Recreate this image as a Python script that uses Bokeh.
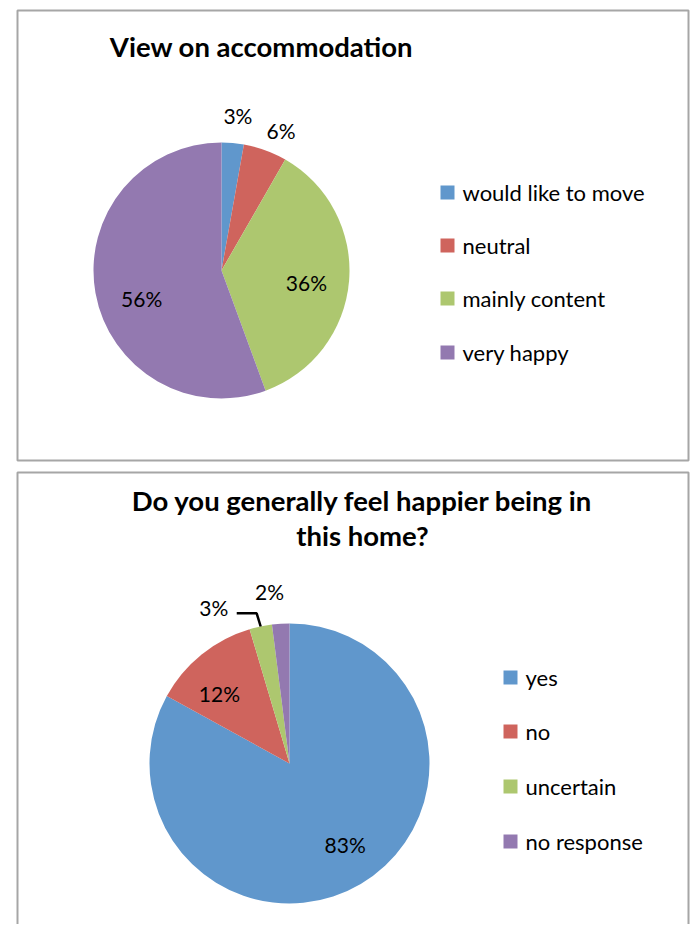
import math
from bokeh.plotting import figure
from bokeh.models import Range1d
from bokeh.core.properties import value
from bokeh.embed import file_html
from bokeh.resources import INLINE

# ---- data ----
title1 = ["View on accommodation"]
cats1 = ["would like to move", "neutral", "mainly content", "very happy"]
vals1 = [2.8, 5.5, 36.1, 55.6]
pct1 = ["3%", "6%", "36%", "56%"]

title2 = ["Do you generally feel happier being in", "this home?"]
cats2 = ["yes", "no", "uncertain", "no response"]
vals2 = [83.0, 12.4, 2.6, 2.0]
pct2 = ["83%", "12%", "3%", "2%"]

colors = ["#6097CC", "#CF645D", "#ADC76F", "#9379B0"]

# ---- layout (page pixel coordinates) ----
W, H = 690, 924
OFF = 0
PAGE_H = 926
FONT = "Lato"


def Y(py):
    return PAGE_H - py


p = figure(width=W, height=H, x_range=Range1d(OFF, OFF + W), y_range=Range1d(Y(OFF + H), Y(OFF)),
           output_backend="svg", toolbar_location=None, min_border=0)
p.axis.visible = False
p.grid.visible = False
p.outline_line_color = None
p.background_fill_color = "white"
p.border_fill_color = "white"

BORDER = "#A6A6A6"
# chart borders
p.rect(x=[352.5], y=[Y(235)], width=671, height=450, fill_color=None,
       line_color=BORDER, line_width=2)
p.rect(x=[352.5], y=[Y(472 + 250)], width=671, height=500, fill_color=None,
       line_color=BORDER, line_width=2)


def pie(vals, cx, cy, r, label_rf, label_adj, pct, fsize):
    tot = sum(vals)
    c = 0.0
    starts, ends, lx, ly = [], [], [], []
    mids = []
    for i, v in enumerate(vals):
        c0 = c / tot
        c1 = (c + v) / tot
        c += v
        starts.append(math.pi / 2 - 2 * math.pi * c1)
        ends.append(math.pi / 2 - 2 * math.pi * c0)
        th = 2 * math.pi * (c0 + c1) / 2 + math.radians(label_adj[i])
        mids.append(2 * math.pi * (c0 + c1) / 2)
        lx.append(cx + label_rf[i] * r * math.sin(th))
        ly.append(Y(cy) + label_rf[i] * r * math.cos(th))
    p.wedge(x=cx, y=Y(cy), radius=r, start_angle=starts, end_angle=ends,
            fill_color=colors, line_color=None)
    p.text(x=lx, y=ly, text=pct, text_align="center", text_baseline="middle",
           text_font=value(FONT), text_font_size=fsize, text_color="#000000")
    return mids, lx, ly


def legend(cats, sx, rows, fsize):
    p.rect(x=[sx + 7] * len(cats), y=[Y(r) for r in rows], width=14, height=14,
           fill_color=colors, line_color=None)
    p.text(x=[sx + 22] * len(cats), y=[Y(r) for r in rows], text=cats,
           text_align="left", text_baseline="middle",
           text_font=value(FONT), text_font_size=fsize, text_color="#000000")


# ---- chart 1 ----
p.text(x=[261], y=[Y(46)], text=title1, text_align="center", text_baseline="middle",
       text_font=value(FONT), text_font_style="bold", text_font_size="27.5px",
       text_color="#000000")
pie(vals1, 221, 270, 128, [1.22, 1.19, 0.67, 0.66], [1, 3, 3, -9], pct1, "21px")
legend(cats1, 440, [192, 245, 298, 352], "22px")

# ---- chart 2 ----
p.text(x=[362, 362], y=[Y(500), Y(535)], text=title2, text_align="center",
       text_baseline="middle", text_font=value(FONT), text_font_style="bold",
       text_font_size="27.5px", text_color="#000000")
mids, lx, ly = pie(vals2, 289, 763, 140, [0.70, 0.71, 1.24, 1.24], [-4, -6, -14, -3],
                   pct2, "21px")
# leader line for the small "uncertain" slice
th = mids[2]
ex = 289 + 140 * math.sin(th)
ey = Y(763) + 140 * math.cos(th)
p.line(x=[lx[2] + 23, ex - 4, ex], y=[ly[2] - 6, ly[2] - 6, ey], line_color="#000000",
       line_width=2.5)

legend(cats2, 503, [677, 731, 786, 841], "22px")

open("out.html", "w").write(file_html(p, INLINE))
